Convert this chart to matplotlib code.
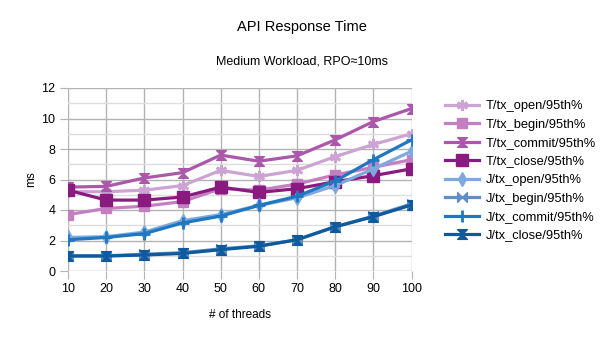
import matplotlib
matplotlib.use("Agg")
import matplotlib.pyplot as plt
from matplotlib.path import Path
from matplotlib.ticker import MultipleLocator

plt.rcParams['font.family'] = ['Liberation Sans', 'DejaVu Sans']

threads = [10, 20, 30, 40, 50, 60, 70, 80, 90, 100]
labels = ["T/tx_open/95th%", "T/tx_begin/95th%", "T/tx_commit/95th%", "T/tx_close/95th%",
          "J/tx_open/95th%", "J/tx_begin/95th%", "J/tx_commit/95th%", "J/tx_close/95th%"]
t_open = [5.2, 5.2, 5.3, 5.6, 6.6, 6.2, 6.6, 7.5, 8.3, 9.0]
t_begin = [3.7, 4.1, 4.25, 4.55, 5.4, 5.3, 5.7, 6.3, 6.8, 7.3]
t_commit = [5.5, 5.55, 6.1, 6.45, 7.6, 7.2, 7.55, 8.6, 9.8, 10.65]
t_close = [5.3, 4.65, 4.65, 4.85, 5.5, 5.15, 5.4, 5.85, 6.25, 6.7]
j_open = [2.2, 2.25, 2.55, 3.3, 3.7, 4.3, 4.8, 5.6, 6.7, 7.85]
j_begin = [1.0, 1.0, 1.1, 1.2, 1.45, 1.65, 2.05, 2.9, 3.6, 4.4]
j_commit = [2.05, 2.2, 2.45, 3.15, 3.6, 4.3, 4.9, 5.9, 7.3, 8.6]
j_close = [0.98, 0.98, 1.05, 1.15, 1.4, 1.62, 2.05, 2.9, 3.56, 4.33]
series = [t_open, t_begin, t_commit, t_close, j_open, j_begin, j_commit, j_close]

hourglass = Path([(-1, 1), (1, 1), (-1, -1), (1, -1), (-1, 1)],
                 [Path.MOVETO, Path.LINETO, Path.LINETO, Path.LINETO, Path.CLOSEPOLY])
bowtie = Path([(-1, -1), (-1, 1), (1, -1), (1, 1), (-1, -1)],
              [Path.MOVETO, Path.LINETO, Path.LINETO, Path.LINETO, Path.CLOSEPOLY])
markers = [(6, 2, 0), 's', hourglass, 's', 'd', bowtie, '+', hourglass]
msizes = [8, 7.5, 7, 8, 7, 7, 9, 7]
colors = ['#cda3d4', '#c47fc0', '#ab58aa', '#8b1a80',
          '#7ea9de', '#5f8dc9', '#1f77c2', '#0e5a9c']

fig = plt.figure(figsize=(6.04, 3.4), dpi=100)
ax = fig.add_axes([68/604, 69/340, (411.5-68)/604, (271-88)/340])

for s, lab, m, ms, c in zip(series, labels, markers, msizes, colors):
    mew = 2 if m in ('+', (6, 2, 0)) else 1
    ax.plot(threads, s, color=c, lw=2.3, marker=m, markersize=ms,
            markeredgewidth=mew, markeredgecolor=c, markerfacecolor=c, label=lab)

ax.set_xlim(10, 100)
ax.set_ylim(0, 12)
ax.set_xticks(threads)
ax.yaxis.set_major_locator(MultipleLocator(2))
ax.yaxis.set_minor_locator(MultipleLocator(1))
ax.grid(which='major', color='#b3b3b3', lw=1)
ax.grid(which='minor', axis='y', color='#dddddd', lw=1)
ax.set_axisbelow(True)
for sp in ax.spines.values():
    sp.set_visible(False)
ax.tick_params(which='major', length=6, color='#b3b3b3', labelsize=9, pad=3)
ax.tick_params(which='minor', length=0)
ax.set_xlabel('# of threads', fontsize=8.5, labelpad=10)
ax.set_ylabel('ms', fontsize=8.5, labelpad=3)

fig.text(0.5, 1 - 27/340, 'API Response Time', ha='center', va='center', fontsize=10.5)
fig.text(0.5, 1 - 61/340, 'Medium Workload, RPO\u224810ms', ha='center', va='center', fontsize=9)

fig.legend(loc='upper left', bbox_to_anchor=(445/604, 1 - 100/340), frameon=False,
           fontsize=9.3, handlelength=2.6, labelspacing=0.5, handletextpad=0.55,
           borderaxespad=0, borderpad=0)

fig.savefig('out.png', dpi=100)
